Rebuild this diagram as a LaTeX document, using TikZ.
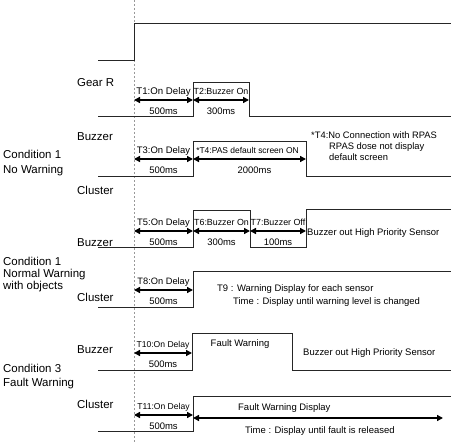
\documentclass[tikz,border=0pt]{standalone}
\usepackage{fontspec}
\setmainfont{Liberation Sans}
\usetikzlibrary{arrows.meta}

\begin{document}
\begin{tikzpicture}[x=1bp, y=-1bp,
        sig/.style={line width=1bp, black!85},
        tarr/.style={<->, >={Triangle[length=6bp,width=6bp]}, line width=1.4bp},
        small/.style={font=\fontsize{9.5}{11}\selectfont, inner sep=0pt},
        narrow/.style={font=\fontsize{#1}{11}\selectfont},
        big/.style={font=\fontsize{11.5}{14}\selectfont, inner sep=0pt, anchor=base west},
        tup/.style={small, midway, anchor=base, yshift=5.6bp},
        tdown/.style={small, midway, anchor=base, yshift=-14.4bp}]
        \useasboundingbox (0,0) rectangle (451,443);

        % time zero
        \draw[black!40, dash pattern=on 2bp off 2bp, line width=0.6bp] (134,0) -- (134,443);

        % signals
        \draw[sig] (98,61) -- (134,61) -- (134,24) -- (451,24);
        \draw[sig] (98,117) -- (193,117) -- (193,83) -- (249,83) -- (249,117) -- (451,117);
        \draw[sig] (98,177) -- (193,177) -- (193,142) -- (306,142) -- (306,177) -- (451,177);
        \draw[sig] (98,247) -- (193,247) -- (193,211) -- (250,211) -- (250,247) -- (306,247) -- (306,210) -- (451,210);
        \draw[sig] (98,307) -- (193,307) -- (193,271) -- (451,271);
        \draw[sig] (98,370) -- (192,370) -- (192,333) -- (292,333) -- (292,370) -- (451,370);
        \draw[sig] (98,431) -- (193,431) -- (193,396) -- (451,396);

        % signal names
        \node[big] (gear) at (77,86.1) {Gear R};
        \node[big] (buz1) at (77,141) {Buzzer};
        \node[big] (clu1) at (77,195) {Cluster};
        \node[big] (buz2) at (77,246) {Buzzer};
        \node[big] (clu2) at (77,301) {Cluster};
        \node[big] (buz3) at (77,353) {Buzzer};
        \node[big] (clu3) at (77,408) {Cluster};

        \node[big] (cond1a) at (3,159) {Condition 1};
        \node[big] (cond1b) at (3,174) {No Warning};
        \node[big] (cond2a) at (3,265) {Condition 1};
        \node[big] (cond2b) at (3,277) {Normal Warning};
        \node[big] (cond2c) at (3,289) {with objects};
        \node[big] (cond3a) at (3,372) {Condition 3};
        \node[big] (cond3b) at (3,386) {Fault Warning};

        % gear R -> buzzer
        \coordinate (a0) at (134,100);
        \coordinate (a1) at (193,100);
        \coordinate (a2) at (249,100);
        \draw[tarr] (a0) -- (a1) node[tup, narrow=9.7] (t1) {T1:On Delay} node[tdown] (t1ms) {500ms};
        \draw[tarr] (a1) -- (a2) node[tup, narrow=8.9] (t2) {T2:Buzzer On} node[tdown] (t2ms) {300ms};

        % no warning, cluster
        \coordinate (b0) at (134,159);
        \coordinate (b1) at (193,159);
        \coordinate (b2) at (306,159);
        \draw[tarr] (b0) -- (b1) node[tup] (t3) {T3:On Delay} node[tdown] (t3ms) {500ms};
        \draw[tarr] (b1) -- (b2) node[tup, narrow=8.5, xshift=-2bp] (t4) {*T4:PAS default screen ON} node[tdown, xshift=5bp] (t4ms) {2000ms};
        \node[small, narrow=9.4, anchor=base west] (note1) at (311,138.4) {*T4:No Connection with RPAS};
        \node[small, narrow=9.4, anchor=base west] (note2) at (329,149.4) {RPAS dose not display};
        \node[small, narrow=9.4, anchor=base west] (note3) at (329,160.4) {default screen};

        % normal warning, buzzer
        \coordinate (c0) at (134,231);
        \coordinate (c1) at (193,231);
        \coordinate (c2) at (250,231);
        \coordinate (c3) at (306,231);
        \draw[tarr] (c0) -- (c1) node[tup, narrow=9.4] (t5) {T5:On Delay} node[tdown] (t5ms) {500ms};
        \draw[tarr] (c1) -- (c2) node[tup, narrow=8.9] (t6) {T6:Buzzer On} node[tdown] (t6ms) {300ms};
        \draw[tarr] (c2) -- (c3) node[tup, narrow=8.9] (t7) {T7:Buzzer Off} node[tdown] (t7ms) {100ms};
        \node[small, anchor=base west] (hps1) at (307,235.4) {Buzzer out High Priority Sensor};

        % normal warning, cluster
        \coordinate (d0) at (134,290);
        \coordinate (d1) at (193,290);
        \draw[tarr] (d0) -- (d1) node[tup, narrow=9.3] (t8) {T8:On Delay} node[tdown] (t8ms) {500ms};
        \node[small, anchor=base west] (t9) at (217,291.4) {T9 : Warning Display for each sensor};
        \node[small, anchor=base west] (t9time) at (233,304.4) {Time : Display until warning level is changed};

        % fault warning, buzzer
        \coordinate (e0) at (134,353);
        \coordinate (e1) at (192,353);
        \draw[tarr] (e0) -- (e1) node[tup, narrow=8.6] (t10) {T10:On Delay} node[tdown] (t10ms) {500ms};
        \node[small, anchor=base] (fw) at (240,346.4) {Fault Warning};
        \node[small, anchor=base west] (hps2) at (303,355.4) {Buzzer out High Priority Sensor};

        % fault warning, cluster
        \coordinate (f0) at (134,415);
        \coordinate (f1) at (193,415);
        \coordinate (g0) at (193,418);
        \coordinate (g1) at (443,418);
        \draw[tarr] (f0) -- (f1) node[tup, narrow=8.6] (t11) {T11:On Delay} node[tdown] (t11ms) {500ms};
        \draw[tarr] (g0) -- (g1);
        \node[small, anchor=base west] (fwd) at (238,410.4) {Fault Warning Display};
        \node[small, anchor=base west] (fwtime) at (245,433.4) {Time : Display until fault is released};
    \end{tikzpicture}
\end{document}
